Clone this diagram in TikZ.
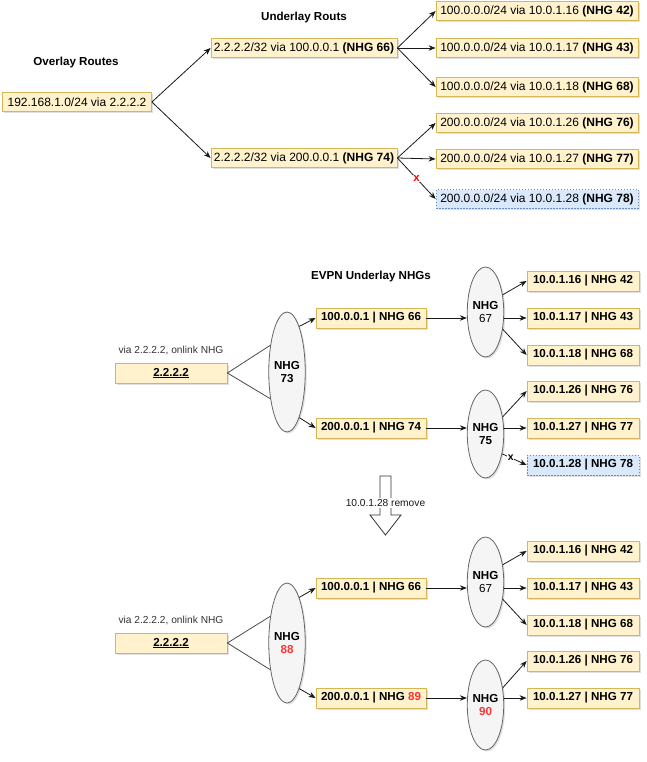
\documentclass[tikz,border=0pt]{standalone}
\usepackage{fontspec}
\setmainfont{Liberation Sans}
\usetikzlibrary{shapes.geometric,arrows.meta,shadows}

\definecolor{boxfill}{HTML}{FFF2CC}
\definecolor{boxline}{HTML}{D6B656}
\definecolor{delfill}{HTML}{DAE8FC}
\definecolor{delline}{HTML}{6C8EBF}
\definecolor{nhgfill}{HTML}{F5F5F5}
\definecolor{nhgline}{HTML}{666666}
\definecolor{newred}{HTML}{FF3333}

\tikzset{
  route/.style={draw=boxline,fill=boxfill,line width=0.8pt,minimum height=19pt,inner sep=0pt,
    font=\fontsize{11.6}{13}\selectfont,
    drop shadow={opacity=0.25,shadow xshift=1.5pt,shadow yshift=-1.5pt}},
  wroute/.style={route,font=\fontsize{12}{13}\selectfont},
  gone/.style={draw=delline,fill=delfill,dash pattern=on 1.5pt off 1.5pt},
  nhg/.style={ellipse,draw=nhgline,fill=nhgfill,line width=0.8pt,inner sep=0pt,minimum width=31pt,
    font=\fontsize{11.6}{13.5}\selectfont\bfseries,align=center,
    drop shadow={opacity=0.25,shadow xshift=1.5pt,shadow yshift=-1.5pt}},
  title/.style={font=\fontsize{11.6}{13}\selectfont\bfseries},
  note/.style={font=\fontsize{10.2}{12}\selectfont,text=black!80},
  link/.style={draw=black!90,line width=0.8pt,-{Stealth[length=7pt,width=5.5pt]}},
  plain/.style={draw=black!70,line width=0.8pt},
  cut/.style={fill=white,inner sep=0.5pt,font=\fontsize{11.5}{12}\selectfont\bfseries},
}

\begin{document}
\begin{tikzpicture}[x=1pt,y=-1pt]
\useasboundingbox (0,0) rectangle (646,762);

\node[title] (tovl) at (76,63) {Overlay Routes};
\node[title] (tund) at (304,18) {Underlay Routs};
\node[wroute,minimum width=149pt] (ovl) at (77,102) {192.168.1.0/24 via 2.2.2.2};
\node[wroute,minimum width=186pt] (u66) at (304,48) {2.2.2.2/32 via 100.0.0.1 \textbf{(NHG 66)}};
\node[wroute,minimum width=186pt] (u74) at (304,158) {2.2.2.2/32 via 200.0.0.1 \textbf{(NHG 74)}};
\node[wroute,minimum width=202pt] (r42) at (537,11) {100.0.0.0/24 via 10.0.1.16 \textbf{(NHG 42)}};
\node[wroute,minimum width=202pt] (r43) at (537,48) {100.0.0.0/24 via 10.0.1.17 \textbf{(NHG 43)}};
\node[wroute,minimum width=202pt] (r68) at (537,87) {100.0.0.0/24 via 10.0.1.18 \textbf{(NHG 68)}};
\node[wroute,minimum width=202pt] (r76) at (537,123) {200.0.0.0/24 via 10.0.1.26 \textbf{(NHG 76)}};
\node[wroute,minimum width=202pt] (r77) at (537,159) {200.0.0.0/24 via 10.0.1.27 \textbf{(NHG 77)}};
\node[wroute,gone,minimum width=202pt] (r78) at (537,199) {200.0.0.0/24 via 10.0.1.28 \textbf{(NHG 78)}};

\draw[link] (ovl.east) -- (u66.west);
\draw[link] (ovl.east) -- (u74.west);
\foreach \t in {r42,r43,r68} \draw[link] (u66.east) -- (\t.west);
\foreach \t in {r76,r77} \draw[link] (u74.east) -- (\t.west);
\draw[link] (u74.east) -- node[cut,text=red] (ux) {x} (r78.west);

\node[title] (tevpn) at (371,276) {EVPN Underlay NHGs};
\node[note] (mvia) at (171,350) {via 2.2.2.2, onlink NHG};
\node[route,minimum width=112pt,minimum height=20pt] (m2) at (171,373) {\textbf{\underline{2.2.2.2}}};
\node[nhg,minimum height=120pt] (n73) at (287,372) {NHG\\73};
\node[route,minimum width=110pt,minimum height=20pt] (m66) at (371,318) {\textbf{100.0.0.1 | NHG 66}};
\node[route,minimum width=110pt,minimum height=20pt] (m74) at (371,428) {\textbf{200.0.0.1 | NHG 74}};
\node[nhg,minimum height=90pt] (n67) at (485.5,312) {NHG\\\mdseries 67};
\node[nhg,minimum height=88pt] (n75) at (485.5,434) {NHG\\75};
\node[route,minimum width=112pt,minimum height=20pt] (s42) at (583,281) {\textbf{10.0.1.16 | NHG 42}};
\node[route,minimum width=112pt,minimum height=20pt] (s43) at (583,318) {\textbf{10.0.1.17 | NHG 43}};
\node[route,minimum width=112pt,minimum height=20pt] (s68) at (583,355) {\textbf{10.0.1.18 | NHG 68}};
\node[route,minimum width=112pt,minimum height=20pt] (s76) at (583,391) {\textbf{10.0.1.26 | NHG 76}};
\node[route,minimum width=112pt,minimum height=20pt] (s77) at (583,428) {\textbf{10.0.1.27 | NHG 77}};
\node[route,gone,minimum width=112pt,minimum height=20pt] (s78) at (583,465) {\textbf{10.0.1.28 | NHG 78}};

\draw[plain] (m2.east) -- (n73.122);
\draw[plain] (m2.east) -- (n73.238);
\draw[link] (n73.75) -- (m66.west);
\draw[link] (n73.-75) -- (m74.west);
\draw[link] (m66.east) -- (m66.east -| n67.west);
\draw[link] (m74.east) -- (m74.east -| n75.west);
\draw[link] (n67.45) -- (s42.west);
\draw[link] (n67.east |- s43.west) -- (s43.west);
\draw[link] (n67.-45) -- (s68.west);
\draw[link] (n75.45) -- (s76.west);
\draw[link] (n75.east |- s77.west) -- (s77.west);
\draw[link] (n75.-50) -- node[cut,pos=0.35,font=\fontsize{10.5}{12}\selectfont\bfseries] (mx) {x} (s78.west);

\draw[draw=black!80,fill=white,line width=0.8pt] (380,476) -- (391,476) -- (391,515) -- (401,515)
  -- (385.5,535) -- (370,515) -- (380,515) -- cycle;
\node[note,fill=white,inner sep=1pt,text=black!90] (rmv) at (385.5,503) {10.0.1.28 remove};

\node[note] (bvia) at (171,620) {via 2.2.2.2, onlink NHG};
\node[route,minimum width=112pt,minimum height=20pt] (b2) at (171,643) {\textbf{\underline{2.2.2.2}}};
\node[nhg,minimum height=120pt] (n88) at (287,643) {NHG\\\textcolor{newred}{88}};
\node[route,minimum width=110pt,minimum height=20pt] (b66) at (371,588) {\textbf{100.0.0.1 | NHG 66}};
\node[route,minimum width=110pt,minimum height=20pt] (b89) at (371,698) {\textbf{200.0.0.1 | NHG \textcolor{newred}{89}}};
\node[nhg,minimum height=90pt] (k67) at (485.5,582) {NHG\\\mdseries 67};
\node[nhg,minimum height=90pt] (n90) at (485.5,705) {NHG\\\textcolor{newred}{90}};
\node[route,minimum width=112pt,minimum height=20pt] (t42) at (583,551) {\textbf{10.0.1.16 | NHG 42}};
\node[route,minimum width=112pt,minimum height=20pt] (t43) at (583,588) {\textbf{10.0.1.17 | NHG 43}};
\node[route,minimum width=112pt,minimum height=20pt] (t68) at (583,625) {\textbf{10.0.1.18 | NHG 68}};
\node[route,minimum width=112pt,minimum height=20pt] (t76) at (583,661) {\textbf{10.0.1.26 | NHG 76}};
\node[route,minimum width=112pt,minimum height=20pt] (t77) at (583,698) {\textbf{10.0.1.27 | NHG 77}};

\draw[plain] (b2.east) -- (n88.122);
\draw[plain] (b2.east) -- (n88.238);
\draw[link] (n88.75) -- (b66.west);
\draw[link] (n88.-75) -- (b89.west);
\draw[link] (b66.east) -- (b66.east -| k67.west);
\draw[link] (b89.east) -- (b89.east -| n90.west);
\draw[link] (k67.45) -- (t42.west);
\draw[link] (k67.east |- t43.west) -- (t43.west);
\draw[link] (k67.-45) -- (t68.west);
\draw[link] (n90.45) -- (t76.west);
\draw[link] (n90.east |- t77.west) -- (t77.west);
\end{tikzpicture}
\end{document}
